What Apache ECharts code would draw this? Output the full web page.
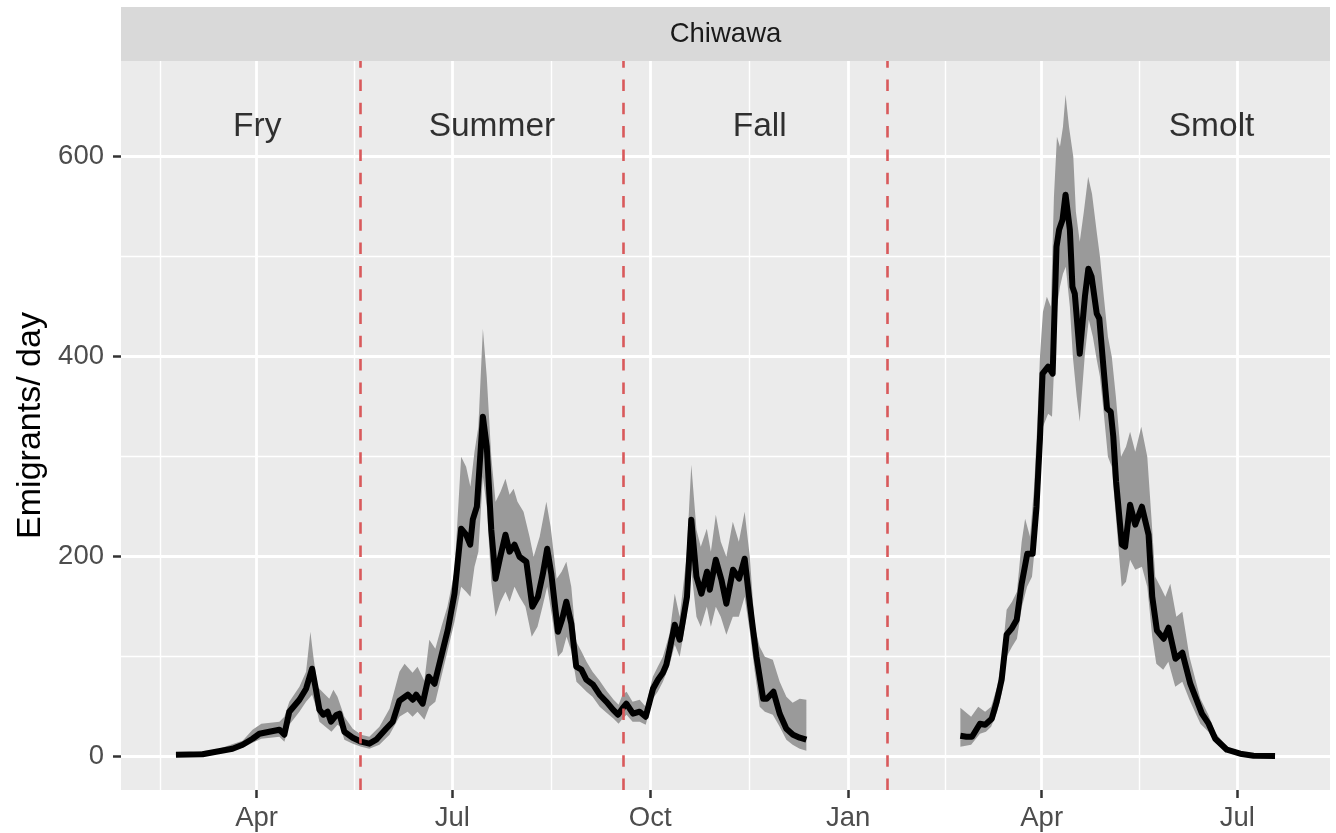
<!DOCTYPE html>
<html><head><meta charset="utf-8">
<script src="https://cdn.jsdelivr.net/npm/echarts@6/dist/echarts.min.js"></script>
<style>html,body{margin:0;padding:0;background:#fff}#c{width:1336px;height:833px}</style>
</head><body><div id="c"></div>
<script>
// x values are days counted from 2013-04-01
const majorTickDays = [0, 91, 183, 275, 365, 456];
const majorTickLabels = ['Apr', 'Jul', 'Oct', 'Jan', 'Apr', 'Jul'];
const minorGridDays = [-45, 45.5, 137, 229, 320, 410.5];
const yMajorTicks = [0, 200, 400, 600];
const yMinorTicks = [100, 300, 500];
const phaseBoundaryDays = [48, 170.3, 293];
const phaseLabels = ['Fry', 'Summer', 'Fall', 'Smolt'];
const phaseLabelDays = [0.3, 109.4, 233.9, 444];
const phaseLabelValue = 630;
const facetName = 'Chiwawa';
const yAxisTitle = 'Emigrants/ day';

// Segment 1 (Feb - Dec): mean daily emigrants
const seg1Mean = [[-37.5,2],[-25.1,2.5],[-18.9,5],[-11.2,8],[-6.5,12],[-1.9,18],[1.3,23],[5.9,25],[10.6,27],[12.9,22],[15.2,45],[19.9,57],[23.0,68],[25.8,88],[27.6,67],[29.2,47],[31.0,42],[33.0,45],[34.6,35],[37.2,42],[38.5,43],[40.8,25],[44.7,19],[48.6,15],[52.4,13],[55.6,17],[60.2,28],[63.3,35],[66.4,56],[70.3,62],[72.6,57],[74.2,62],[77.2,53],[80.0,80],[82.7,73],[85.8,100],[88.9,127],[92.0,163],[95.1,228],[97.4,222],[99.3,212],[100.5,237],[102.4,250],[105.2,340],[107.0,310],[109.1,227],[111.1,178],[113.3,200],[115.7,222],[117.6,205],[119.9,212],[122.2,200],[125.4,195],[128.2,150],[130.8,160],[133.1,183],[135.1,208],[137.0,183],[140.1,125],[142.1,138],[144.0,155],[146.3,133],[148.6,90],[151.0,87],[153.3,77],[156.4,72],[159.5,62],[162.6,55],[165.7,47],[168.0,42],[170.0,48],[171.9,53],[175.0,43],[178.1,45],[180.9,40],[184.3,68],[186.6,77],[188.9,84],[190.5,92],[192.0,107],[194.4,132],[196.7,117],[200.1,160],[202.1,237],[204.5,180],[206.8,163],[209.4,185],[210.7,167],[213.5,197],[216.1,177],[218.4,153],[221.5,187],[224.3,178],[226.9,198],[229.3,153],[232.4,100],[235.5,58],[237.2,58],[240.3,65],[243.2,43],[246.3,28],[249.4,22],[252.5,19],[255.6,17]];
const seg1Upper = [[-37.5,3],[-18.9,7],[-6.5,16],[-1.9,27],[2.2,33],[10.6,35],[12.9,40],[15.2,55],[19.9,70],[23.0,85],[25.0,125],[26.4,100],[28.3,70],[31.0,64],[33.8,58],[35.7,67],[37.6,60],[40.8,40],[44.7,28],[48.6,22],[52.4,20],[57.1,30],[61.8,48],[66.4,85],[68.8,93],[72.5,84],[74.8,90],[78.0,76],[80.3,117],[83.1,108],[85.9,130],[88.7,150],[92.0,185],[95.1,300],[97.4,290],[99.4,270],[101.3,305],[103.1,330],[105.2,428],[107.0,380],[109.1,300],[111.1,255],[113.4,265],[115.7,278],[117.6,262],[119.5,268],[121.3,255],[124.1,245],[126.9,220],[128.8,200],[131.6,220],[134.7,255],[136.7,230],[139.5,178],[141.8,185],[144.0,195],[146.3,170],[148.6,115],[151.1,105],[153.4,95],[156.2,85],[159.5,76],[162.7,66],[166.0,57],[168.3,52],[170.1,62],[172.0,65],[174.8,55],[178.1,57],[180.9,50],[184.2,80],[186.5,90],[188.9,100],[192.0,123],[194.4,163],[196.7,140],[199.9,200],[202.1,292],[204.5,227],[206.5,210],[209.3,228],[211.2,205],[213.5,242],[215.8,215],[218.4,200],[221.4,235],[224.2,215],[226.9,245],[229.3,200],[231.6,130],[233.9,110],[236.3,100],[240.0,97],[243.2,75],[246.3,60],[249.2,54],[252.5,58],[255.6,57]];
const seg1Lower = [[-37.5,1],[-18.9,3],[-6.5,9],[-1.9,14],[2.2,18],[10.6,20],[12.9,15],[15.2,32],[19.9,45],[23.0,55],[25.8,62],[27.6,50],[29.2,35],[32.0,30],[34.8,25],[37.6,32],[39.0,30],[40.8,17],[44.7,13],[48.6,10],[52.4,8],[57.1,12],[61.8,22],[66.4,40],[70.2,45],[72.5,40],[74.8,45],[78.0,37],[80.3,50],[83.1,55],[85.9,80],[88.7,105],[92.0,135],[95.1,170],[97.4,165],[99.4,160],[101.3,190],[103.1,205],[105.2,280],[107.0,250],[109.1,175],[111.1,140],[113.4,155],[115.7,165],[117.6,155],[119.9,170],[122.2,160],[125.0,150],[127.9,120],[130.6,130],[132.9,150],[135.1,170],[137.0,145],[140.1,100],[142.2,105],[144.1,120],[146.4,105],[148.7,75],[151.1,70],[153.4,65],[156.2,60],[159.5,50],[162.7,44],[166.0,38],[168.3,33],[170.1,38],[172.0,42],[174.8,35],[178.1,35],[180.9,32],[184.2,58],[186.5,65],[188.9,75],[192.0,92],[194.4,112],[196.7,100],[199.9,140],[202.1,187],[204.5,140],[206.5,130],[209.3,150],[211.2,130],[213.5,150],[215.8,140],[218.4,122],[221.4,140],[224.2,140],[226.9,160],[229.3,125],[231.6,85],[233.9,50],[236.3,45],[240.0,42],[243.2,30],[246.3,17],[249.2,12],[252.5,8],[255.6,6]];

// Segment 2 (Feb - Jul of following year)
const seg2Mean = [[327.2,21],[330.0,20],[332.6,20],[336.3,33],[338.7,32],[341.8,38],[344.1,55],[346.4,77],[348.7,122],[351.0,128],[353.4,137],[355.7,173],[358.3,203],[360.8,203],[362.6,250],[364.2,318],[365.4,383],[368.0,390],[370.1,383],[371.9,510],[373.1,527],[374.7,537],[376.1,562],[378.1,527],[379.3,470],[380.4,463],[382.7,403],[385.1,460],[386.7,488],[388.2,480],[390.6,443],[391.8,438],[393.7,390],[395.4,348],[397.1,345],[398.3,320],[399.6,275],[402.3,212],[403.8,210],[406.1,252],[408.5,232],[411.6,250],[414.7,222],[416.4,160],[418.6,126],[421.7,118],[424.0,129],[427.2,98],[430.4,104],[434.1,73],[439.5,43],[442.6,33],[445.7,18],[451.1,7],[457.3,3],[463.5,1],[473.5,0.7]];
const seg2Upper = [[327.2,49],[332.2,40],[335.5,50],[338.7,45],[341.5,50],[344.3,70],[346.6,100],[348.7,147],[351.2,155],[353.5,165],[355.7,215],[357.3,238],[359.6,220],[361.5,270],[362.9,330],[364.2,400],[365.6,445],[367.4,460],[369.3,450],[370.7,560],[372.1,620],[373.5,610],[374.9,630],[376.1,662],[377.7,630],[379.7,600],[380.9,545],[382.7,515],[384.6,545],[386.6,580],[388.4,563],[390.7,523],[392.1,500],[393.9,460],[395.8,420],[397.6,400],[399.5,360],[401.9,300],[404.2,310],[406.1,325],[408.5,305],[411.3,330],[414.1,300],[416.0,240],[417.8,180],[420.2,170],[422.5,160],[424.8,173],[427.6,140],[430.4,145],[433.7,100],[438.8,58],[442.5,42],[445.7,24],[451.2,10],[457.3,4],[463.4,2],[473.5,1]];
const seg2Lower = [[327.2,10],[332.2,12],[336.3,23],[339.1,25],[341.5,30],[344.3,45],[346.6,65],[348.7,100],[351.2,110],[353.5,118],[355.8,150],[358.2,170],[360.5,180],[362.3,220],[364.2,270],[365.6,330],[368.0,343],[369.8,340],[371.9,447],[373.5,470],[374.9,483],[376.2,490],[378.1,450],[379.5,400],[381.3,360],[382.7,335],[385.1,403],[386.9,437],[388.8,420],[390.6,397],[392.1,380],[393.9,343],[395.8,300],[397.6,290],[399.5,240],[402.2,170],[404.2,175],[406.1,197],[408.5,187],[411.6,190],[414.1,170],[416.4,120],[418.3,93],[421.5,87],[423.9,95],[427.1,70],[430.4,75],[433.7,57],[438.8,33],[442.5,25],[445.7,14],[451.2,5],[457.3,2],[463.4,0.5],[473.5,0.4]];

const FONT = '"Liberation Sans", Arial, sans-serif';
const xMin = -63.05, xMax = 499.05;
const yMin = -33.3, yMax = 695.7;

function ribbonSeries(upper, lower) {
  return {
    type: 'custom',
    xAxisIndex: 0, yAxisIndex: 0,
    silent: true,
    z: 2,
    data: upper,
    renderItem: function (params, api) {
      if (params.dataIndex !== 0) return null;
      const pts = [];
      for (let i = 0; i < upper.length; i++) pts.push(api.coord(upper[i]));
      for (let i = lower.length - 1; i >= 0; i--) pts.push(api.coord(lower[i]));
      return { type: 'polygon', shape: { points: pts }, style: { fill: '#9A9A9A', stroke: null } };
    }
  };
}
function meanSeries(data, extra) {
  return Object.assign({
    type: 'line', data: data, xAxisIndex: 0, yAxisIndex: 0,
    symbol: 'none', silent: true, z: 3,
    lineStyle: { color: '#000', width: 6, join: 'round', cap: 'butt' }
  }, extra || {});
}

const chart = echarts.init(document.getElementById('c'), null, { renderer: 'canvas' });
chart.setOption({
  animation: false,
  backgroundColor: '#ffffff',
  textStyle: { fontFamily: FONT },
  grid: { left: 121, right: 6, top: 61, bottom: 43, show: true, backgroundColor: '#EBEBEB', borderWidth: 0, containLabel: false },
  graphic: [
    { type: 'rect', left: 121, top: 7, shape: { width: 1209, height: 54 }, style: { fill: '#D9D9D9' }, z: 10 },
    { type: 'text', x: 725.5, y: 34.5, style: { text: facetName, fill: '#1A1A1A', font: '27.5px ' + FONT, textAlign: 'center', textVerticalAlign: 'middle' }, z: 11 }
  ],
  xAxis: [
    {
      type: 'value', min: xMin, max: xMax, position: 'bottom',
      axisLine: { show: false, onZero: false },
      axisTick: { show: true, length: 8, customValues: majorTickDays, lineStyle: { color: '#333333', width: 2.5 } },
      axisLabel: {
        show: true, customValues: majorTickDays, margin: 14, fontSize: 27.5, color: '#4D4D4D', fontFamily: FONT,
        formatter: function (v) { const i = majorTickDays.indexOf(v); return i >= 0 ? majorTickLabels[i] : ''; }
      },
      splitLine: { show: true, lineStyle: { color: '#FFFFFF', width: 2.8 } }
    },
    {
      type: 'value', min: xMin, max: xMax, position: 'bottom',
      axisLine: { show: false, onZero: false },
      axisTick: { show: false, customValues: minorGridDays },
      axisLabel: { show: false, customValues: minorGridDays },
      splitLine: { show: true, lineStyle: { color: '#FFFFFF', width: 1.4 } }
    }
  ],
  yAxis: [
    {
      type: 'value', min: yMin, max: yMax, position: 'left',
      name: yAxisTitle, nameLocation: 'middle', nameGap: 73, nameRotate: 90,
      nameTextStyle: { fontSize: 34, color: '#000', fontFamily: FONT },
      axisLine: { show: false, onZero: false },
      axisTick: { show: true, length: 8, customValues: yMajorTicks, lineStyle: { color: '#333333', width: 2.5 } },
      axisLabel: { show: true, customValues: yMajorTicks, margin: 17, fontSize: 27.5, color: '#4D4D4D', fontFamily: FONT },
      splitLine: { show: true, lineStyle: { color: '#FFFFFF', width: 2.8 } }
    },
    {
      type: 'value', min: yMin, max: yMax, position: 'left', offset: 0,
      axisLine: { show: false, onZero: false },
      axisTick: { show: false, customValues: yMinorTicks },
      axisLabel: { show: false, customValues: yMinorTicks },
      splitLine: { show: true, lineStyle: { color: '#FFFFFF', width: 1.4 } }
    }
  ],
  series: [
    ribbonSeries(seg1Upper, seg1Lower),
    ribbonSeries(seg2Upper, seg2Lower),
    meanSeries(seg1Mean, {
      markLine: {
        silent: true, symbol: ['none', 'none'], label: { show: false },
        lineStyle: { color: '#D9595B', width: 2.6, type: [11.5, 11.8] },
        data: phaseBoundaryDays.map(function (d) { return { xAxis: d }; })
      }
    }),
    meanSeries(seg2Mean),
    {
      type: 'scatter', xAxisIndex: 0, yAxisIndex: 0, silent: true, z: 4,
      symbolSize: 1, itemStyle: { color: 'rgba(0,0,0,0)' },
      data: phaseLabels.map(function (n, i) { return { name: n, value: [phaseLabelDays[i], phaseLabelValue] }; }),
      label: { show: true, position: 'inside', formatter: '{b}', fontSize: 33.5, color: '#000', fontFamily: FONT }
    }
  ]
});
</script></body></html>
